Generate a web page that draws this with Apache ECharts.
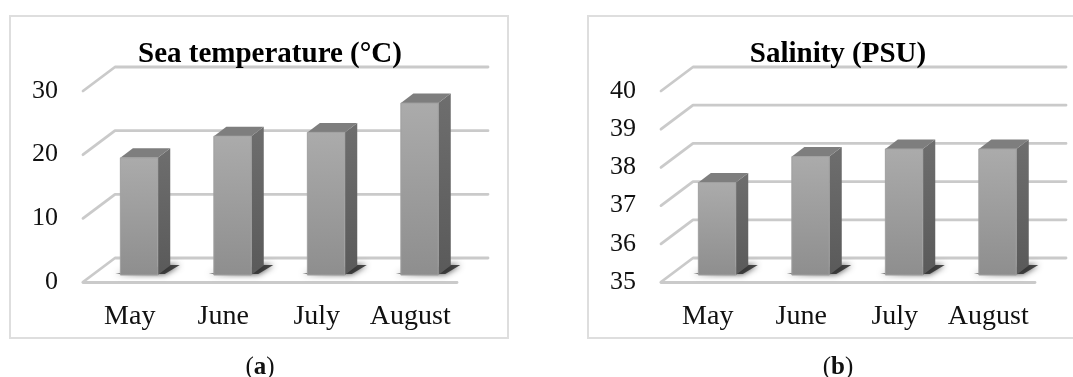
<!DOCTYPE html>
<html lang="en" style="height: 100%">

<head>
  <meta charset="utf-8">
</head>

<body style="height: 100%; margin: 0; background: #fff">
  <div id="container" style="height: 100%"></div>

  <script type="text/javascript" src="https://cdn.jsdelivr.net/npm/echarts@6/dist/echarts.min.js"></script>

  <script type="text/javascript">
    var months = ['May', 'June', 'July', 'August'];
    var temperature = [18.4, 21.8, 22.4, 27];
    var salinity = [37.42, 38.1, 38.3, 38.3];
    var temperatureTicks = [0, 10, 20, 30];
    var salinityTicks = [35, 36, 37, 38, 39, 40];

    var FONT = '"Liberation Serif"';
    var WALL_DX = 32, WALL_DY = 24;   // floor depth of the fake 3d box
    var BAR_DX = 9.3, BAR_DY = 7;     // bar front face sits this far back
    var SIDE_DX = 12.5, SIDE_DY = 9.5;
    var LINE_COLOR = '#cacaca';

    var dom = document.getElementById('container');
    var myChart = echarts.init(dom, null, { renderer: 'canvas' });

    function renderWall(params, api) {
      var c = params.coordSys;
      var y = api.coord([0, api.value(1)])[1];
      return {
        type: 'polyline',
        shape: {
          points: [
            [c.x, y],
            [c.x + WALL_DX, y - WALL_DY],
            [c.x + c.width + WALL_DX - 1, y - WALL_DY]
          ]
        },
        style: { fill: null, stroke: LINE_COLOR, lineWidth: 2.8, lineCap: 'round', lineJoin: 'round' }
      };
    }

    function renderBar(params, api) {
      var base = api.coord([api.value(0), api.value(2)]);
      var top = api.coord([api.value(0), api.value(1)]);
      var half = api.size([1, 0])[0] * 0.2;
      var l = base[0] + BAR_DX - half;
      var r = base[0] + BAR_DX + half;
      var b = base[1] - BAR_DY;
      var t = top[1] - BAR_DY;
      return {
        type: 'group',
        children: [
          {
            // soft floor shadow
            type: 'polygon',
            shape: { points: [[l - 5, b - 1], [r + 7, b - 1], [r + 22, b - 10], [r + 12, b - 10]] },
            style: { fill: 'rgba(45,45,45,0.85)', shadowBlur: 6, shadowColor: 'rgba(0,0,0,0.9)' }
          },
          {
            type: 'polygon',
            shape: { points: [[r, b], [r + SIDE_DX, b - SIDE_DY], [r + SIDE_DX, t - SIDE_DY], [r, t]] },
            style: {
              fill: new echarts.graphic.LinearGradient(0, 0, 0, 1, [
                { offset: 0, color: '#6e6e6e' },
                { offset: 1, color: '#5a5a5a' }
              ])
            }
          },
          {
            type: 'polygon',
            shape: { points: [[l, t], [l + SIDE_DX, t - SIDE_DY], [r + SIDE_DX, t - SIDE_DY], [r, t]] },
            style: { fill: '#7e7e7e' }
          },
          {
            type: 'rect',
            shape: { x: l, y: t, width: r - l, height: b - t },
            style: {
              fill: new echarts.graphic.LinearGradient(0, 0, 0, 1, [
                { offset: 0, color: '#ababab' },
                { offset: 1, color: '#8e8e8e' }
              ]),
              stroke: '#a0a0a0',
              lineWidth: 1
            }
          }
        ]
      };
    }

    function wallSeries(ticks, index) {
      return {
        type: 'custom',
        xAxisIndex: index,
        yAxisIndex: index,
        silent: true,
        clip: false,
        renderItem: renderWall,
        data: ticks.map(function (v) { return [0, v]; })
      };
    }

    function barSeries(values, floor, index) {
      return {
        type: 'custom',
        xAxisIndex: index,
        yAxisIndex: index,
        silent: true,
        clip: false,
        renderItem: renderBar,
        data: values.map(function (v, i) { return [i, v, floor]; })
      };
    }

    function xAxis(index) {
      return {
        type: 'category',
        gridIndex: index,
        data: months,
        axisLine: { lineStyle: { color: LINE_COLOR, width: 2.8, cap: 'round' } },
        axisTick: { show: false },
        axisLabel: { interval: 0, color: '#111', fontFamily: FONT, fontSize: 28, margin: 21 }
      };
    }

    function yAxis(index, ticks) {
      return {
        type: 'value',
        gridIndex: index,
        min: ticks[0],
        max: ticks[ticks.length - 1],
        interval: ticks[1] - ticks[0],
        axisLine: { show: false },
        axisTick: { show: false },
        splitLine: { show: false },
        axisLabel: { color: '#111', fontFamily: FONT, fontSize: 26, margin: 25 }
      };
    }

    function heading(text, x, y, size) {
      return {
        text: text,
        left: x,
        top: y,
        textAlign: 'center',
        textStyle: { color: '#000', fontFamily: FONT, fontSize: size, fontWeight: 'bold' }
      };
    }

    function caption(letter, x) {
      return {
        text: '({b|' + letter + '})',
        left: x,
        top: 350,
        textAlign: 'center',
        textStyle: {
          color: '#111',
          fontFamily: FONT,
          fontSize: 25,
          fontWeight: 'normal',
          rich: { b: { fontFamily: FONT, fontSize: 25, fontWeight: 'bold', color: '#111' } }
        }
      };
    }

    var option = {
      animation: false,
      backgroundColor: '#fff',
      title: [
        heading('Sea temperature (°C)', 265, 35, 29),
        heading('Salinity (PSU)', 833, 35, 29),
        caption('a', 255),
        caption('b', 833)
      ],
      graphic: [
        {
          type: 'rect',
          z: -1,
          shape: { x: 10, y: 16, width: 498, height: 322 },
          style: { fill: '#fff', stroke: '#dedede', lineWidth: 2 }
        },
        {
          type: 'rect',
          z: -1,
          shape: { x: 588, y: 16, width: 490, height: 322 },
          style: { fill: '#fff', stroke: '#dedede', lineWidth: 2 }
        }
      ],
      grid: [
        { left: 83, top: 91, width: 374, height: 191 },
        { left: 661, top: 91, width: 374, height: 191 }
      ],
      xAxis: [xAxis(0), xAxis(1)],
      yAxis: [yAxis(0, temperatureTicks), yAxis(1, salinityTicks)],
      series: [
        wallSeries(temperatureTicks, 0),
        wallSeries(salinityTicks, 1),
        barSeries(temperature, temperatureTicks[0], 0),
        barSeries(salinity, salinityTicks[0], 1)
      ]
    };

    myChart.setOption(option);
    window.addEventListener('resize', myChart.resize);
  </script>
</body>

</html>
